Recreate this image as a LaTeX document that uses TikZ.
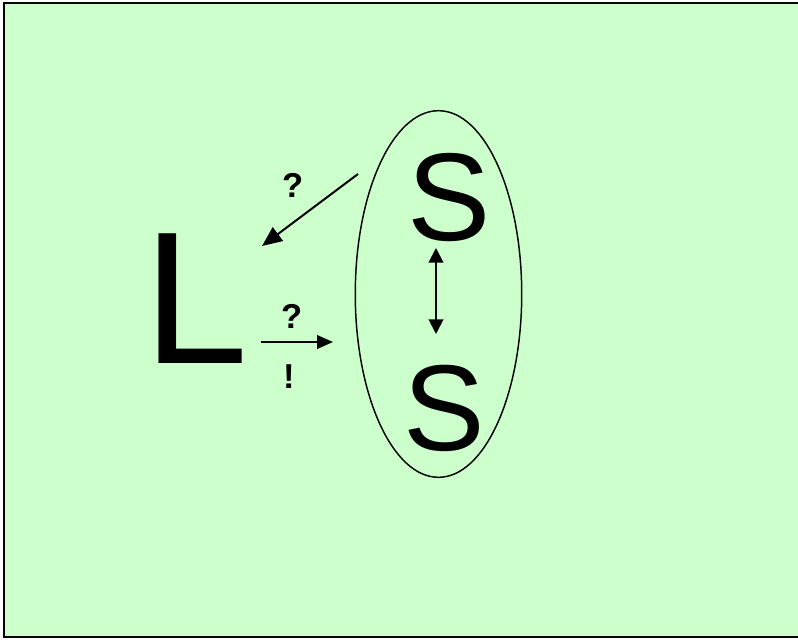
\documentclass[tikz,border=0pt]{standalone}
\usepackage{fontspec}
\setmainfont{Liberation Sans}
\usetikzlibrary{arrows.meta, shapes.geometric}
\definecolor{bgmint}{HTML}{CCFFCC}
\tikzset{
  bigletter/.style={inner sep=0pt, font=\fontsize{#1}{#1}\selectfont},
  marklabel/.style={inner sep=0pt, font=\fontsize{26}{26}\selectfont\bfseries},
  pointer/.style={line width=1.5pt, -{Triangle[length=#1, width=0.85*#1]}},
  bothway/.style={line width=1.5pt, {Triangle[length=11pt, width=11pt]}-{Triangle[length=11pt, width=11pt]}}
}
\begin{document}
\begin{tikzpicture}[x=0.02646cm, y=-0.02646cm]
  \useasboundingbox (0,0) rectangle (798,639);
  % khung nen
  \draw[fill=bgmint, draw=black, line width=1.5pt] (4,3) rectangle (801,637);
  % chu cai
  \node[bigletter=142] (ltr) at (196,299) {L};
  \node[bigletter=94] (stop) at (449,198) {S};
  \node[bigletter=92] (sbot) at (444,408) {S};
  \node[draw, line width=1.1pt, ellipse, inner sep=0pt,
        minimum width=125.3pt, minimum height=276pt] (ring) at (438.5,294) {};
  % dau hoi, dau than
  \node[marklabel] (qtop) at (293,185) {?};
  \node[marklabel] (qmid) at (292,316) {?};
  \node[marklabel] (excl) at (289,377) {!};
  \coordinate (d1) at (358,174);
  \coordinate (d2) at (262,246);
  \coordinate (h1) at (261,342);
  \coordinate (h2) at (333,342);
  \coordinate (v1) at (436,248);
  \coordinate (v2) at (436,334);
  \draw[pointer=15pt] (d1) -- (d2);
  \draw[pointer=12pt] (h1) -- (h2);
  \draw[bothway] (v1) -- (v2);
\end{tikzpicture}
\end{document}
